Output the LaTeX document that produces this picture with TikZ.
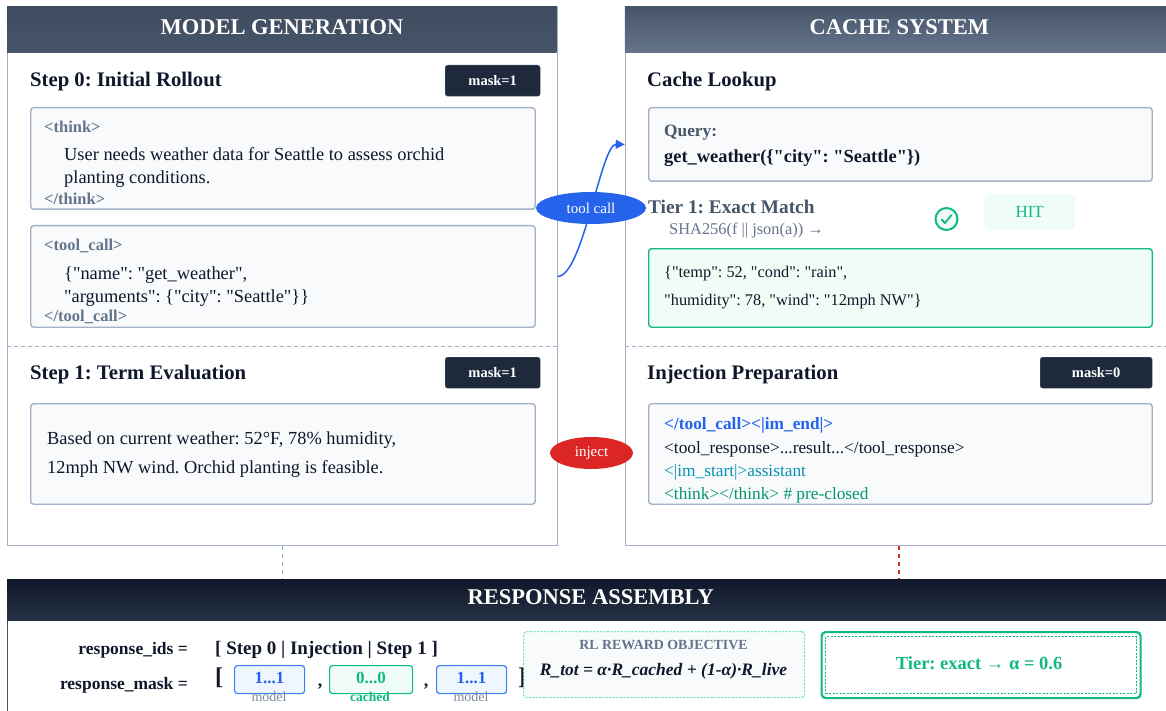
\documentclass[tikz,border=0pt]{standalone}
\usepackage{fontspec}
\setmainfont{Liberation Serif}[Ligatures=TeXOff]
\frenchspacing
\usetikzlibrary{arrows.meta,positioning,shapes.geometric}
\definecolor{edgeC}{HTML}{A3B1C6}
\definecolor{ink}{HTML}{0F172A}
\definecolor{tagC}{HTML}{64748B}
\definecolor{slate}{HTML}{475569}
\definecolor{softbg}{HTML}{F8FAFC}
\definecolor{navy}{HTML}{1E293B}
\definecolor{blueC}{HTML}{2563EB}
\definecolor{redC}{HTML}{DC2626}
\definecolor{greenC}{HTML}{10B981}
\definecolor{greenBg}{HTML}{F0FDF6}
\definecolor{tealC}{HTML}{0891B2}
\definecolor{leafC}{HTML}{059669}
\definecolor{blueBg}{HTML}{EFF6FF}
\definecolor{blueEdge}{HTML}{3B82F6}
\definecolor{mintC}{HTML}{6EE7B7}
\tikzset{
  panel/.style={draw=edgeC,line width=1.3pt,fill=white,anchor=north west,inner sep=0},
  header/.style={anchor=north west,inner sep=0,font=\bfseries\fontsize{22.5}{22.5}\selectfont,text=white},
  divider/.style={draw=edgeC,dashed,line width=.8pt,dash pattern=on 4pt off 3pt},
  title/.style={anchor=base west,inner sep=0,font=\bfseries\fontsize{20.7}{20.7}\selectfont,text=ink},
  badge/.style={fill=navy,draw=edgeC!40!navy,line width=.4pt,rounded corners=2.5pt,anchor=north west,inner sep=0,text=white,font=\bfseries\fontsize{14.5}{14.5}\selectfont},
  card/.style={draw=edgeC,line width=1.4pt,fill=softbg,rounded corners=3pt,anchor=north west,inner sep=0},
  tag/.style={anchor=base west,inner sep=0,font=\bfseries\fontsize{16.5}{16.5}\selectfont,text=tagC},
  body/.style={anchor=base west,inner sep=0,font=\fontsize{18.4}{18.4}\selectfont,text=ink},
  small/.style={anchor=base west,inner sep=0,font=\fontsize{17.3}{17.3}\selectfont,text=ink},
  bubble/.style={ellipse,minimum height=32pt,inner sep=0,text=white,font=\fontsize{15}{15}\selectfont},
  linkC/.style={draw=blueC,line width=1.5pt},
  maskbox/.style={rounded corners=3pt,line width=1.2pt,anchor=north west,inner sep=0,font=\bfseries\fontsize{17}{17}\selectfont},
  under/.style={inner sep=0,font=\fontsize{14}{14}\selectfont},
  lhs/.style={anchor=base east,inner sep=0,font=\bfseries\fontsize{17.5}{17.5}\selectfont,text=ink},
}
\begin{document}
\begin{tikzpicture}[x=1pt,y=-1pt]
\useasboundingbox (0,0) rectangle (1166,711);
\clip (0,0) rectangle (1166,711);
% panels
\node[panel,minimum width=549.5pt,minimum height=539pt] (leftP) at (7,6) {};
\node[panel,minimum width=560pt,minimum height=539pt] (rightP) at (624.7,6) {};
\node[panel,draw=slate,minimum width=1180pt,minimum height=140pt] (botP) at (7,579) {};
% headers
\node[header,minimum width=549.5pt,minimum height=46pt,top color=slate!85!ink,bottom color=slate,align=center] (leftH) at (7,6) {\raisebox{5pt}{MODEL GENERATION}};
\node[header,minimum width=541pt,minimum height=46pt,top color=slate,bottom color=tagC,align=center] (rightH) at (624.7,6) {\hspace*{8pt}\raisebox{5pt}{CACHE SYSTEM}};
\node[header,minimum width=1159pt,minimum height=41pt,top color=ink,bottom color=navy!80!slate,align=center] (botH) at (7,579) {\hspace*{8pt}\raisebox{5pt}{RESPONSE ASSEMBLY}};
% dividers
\draw[divider] (leftP.west |- 0,346) coordinate (dl1) -- (leftP.east |- 0,346) coordinate (dl2);
\draw[divider] (rightP.west |- 0,346) coordinate (dr1) -- (1166,346) coordinate (dr2);
% left column
\node[title] (t0) at (30,87) {Step 0: Initial Rollout};
\node[badge,minimum width=95pt,minimum height=31pt] (m0) at (445,65) {mask=1};
\node[card,minimum width=504.5pt,minimum height=101.5pt] (thinkB) at (30,107) {};
\node[tag] (th1) at (44,133) {<think>};
\node[body] (th2) at (64,161) {User needs weather data for Seattle to assess orchid};
\node[body] (th3) at (64,184) {planting conditions.};
\node[tag] (th4) at (44,205) {</think>};
\node[card,minimum width=504.5pt,minimum height=101.5pt] (toolB) at (30,225) {};
\node[tag] (tc1) at (44,251) {<tool\_call>};
\node[body] (tc2) at (64,279) {\{"name": "get\_weather",};
\node[body] (tc3) at (64,302) {"arguments": \{"city": "Seattle"\}\}};
\node[tag] (tc4) at (44,321) {</tool\_call>};
\node[title] (t1) at (30,379) {Step 1: Term Evaluation};
\node[badge,minimum width=95pt,minimum height=31pt] (m1) at (445,357) {mask=1};
\node[card,minimum width=504.5pt,minimum height=100.5pt] (termB) at (30,403) {};
\node[body] (te1) at (47,444) {Based on current weather: 52°F, 78\% humidity,};
\node[body] (te2) at (47,473) {12mph NW wind. Orchid planting is feasible.};
% right column
\node[title] (t2) at (647,87) {Cache Lookup};
\node[card,minimum width=503.5pt,minimum height=73.5pt] (queryB) at (648,107) {};
\node[anchor=base west,inner sep=0,font=\bfseries\fontsize{17.3}{17.3}\selectfont,text=slate] (q1) at (664,136.5) {Query:};
\node[anchor=base west,inner sep=0,font=\bfseries\fontsize{18.4}{18.4}\selectfont,text=ink] (q2) at (664,163) {get\_weather(\{"city": "Seattle"\})};
\node[anchor=base west,inner sep=0,font=\bfseries\fontsize{19.3}{19.3}\selectfont,text=slate] (tier) at (648,214) {Tier 1: Exact Match};
\node[anchor=base west,inner sep=0,font=\fontsize{16.4}{16.4}\selectfont,text=tagC] (sha) at (669,235) {SHA256(f || json(a)) →};
\node[circle,draw=greenC,fill=greenBg,line width=2pt,minimum size=22pt,inner sep=0] (chk) at (946.5,219) {};
\draw[greenC,line width=1.8pt,line cap=round,line join=round] ([shift={(-5,0.5)}]chk.center) -- ([shift={(-1.5,4)}]chk.center) -- ([shift={(5,-4)}]chk.center);
\node[fill=greenBg,rounded corners=5pt,minimum width=91pt,minimum height=36pt,anchor=north west,inner sep=0,text=greenC,font=\fontsize{17}{17}\selectfont] (hit) at (984,194) {HIT};
\node[card,draw=greenC,fill=greenBg,minimum width=503.5pt,minimum height=78.5pt] (resB) at (648,248) {};
\node[small,font=\fontsize{16.3}{16.3}\selectfont] (r1) at (664,277.5) {\{"temp": 52, "cond": "rain",};
\node[small,font=\fontsize{16.3}{16.3}\selectfont] (r2) at (664,305) {"humidity": 78, "wind": "12mph NW"\}};
\node[title] (t3) at (647,379) {Injection Preparation};
\node[badge,minimum width=112pt,minimum height=31pt] (m2) at (1040,357) {mask=0};
\node[card,minimum width=503.5pt,minimum height=100.5pt] (injB) at (648,403) {};
\node[small,font=\bfseries\fontsize{17.3}{17.3}\selectfont,text=blueC] (i1) at (664,429) {</tool\_call><|im\_end|>};
\node[small] (i2) at (664,453) {<tool\_response>...result...</tool\_response>};
\node[small,text=tealC] (i3) at (664,476) {<|im\_start|>assistant};
\node[small,text=leafC] (i4) at (664,499) {<think></think> \# pre-closed};
% connectors
\coordinate (fromTool) at (leftP.east |- toolB.center);
\coordinate (toQuery) at (rightP.west |- queryB.center);
\draw[linkC,-{Triangle[length=9pt,width=9pt]}] (fromTool) .. controls (583,276) and (601,144) .. (toQuery);
\node[bubble,fill=blueC,minimum width=110pt] (callL) at (591,208) {tool call};
\node[bubble,fill=redC,minimum width=83pt] (injL) at (591.5,453) {inject};
\draw[edgeC,line width=.9pt,dash pattern=on 4pt off 4pt] (leftP.south -| leftH.south) -- (leftH.south |- botH.north);
\coordinate (ra) at (899,546);
\draw[redC,line width=1.2pt,dash pattern=on 4pt off 4pt] (ra) -- (ra |- botH.north);
% assembly
\node[lhs] (ids) at (188,654) {response\_ids =};
\node[lhs] (mask) at (188,689) {response\_mask =};
\node[anchor=base west,inner sep=0,font=\bfseries\fontsize{19}{19}\selectfont,text=ink] (seq) at (215,654) {[ Step 0 | Injection | Step 1 ]};
\node[anchor=base,inner sep=0,font=\bfseries\fontsize{24}{24}\selectfont,text=ink] (lb) at (219,684) {[};
\node[maskbox,draw=blueEdge,fill=blueBg,text=blueC,minimum width=70pt,minimum height=28pt] (b1) at (234,665) {\raisebox{3pt}{1...1}};
\node[anchor=base,inner sep=0,font=\bfseries\fontsize{18}{18}\selectfont,text=ink] (c1) at (320,686) {,};
\node[maskbox,draw=greenC,fill=greenBg,text=greenC,minimum width=83pt,minimum height=28pt] (b2) at (329,665) {\raisebox{3pt}{0...0}};
\node[anchor=base,inner sep=0,font=\bfseries\fontsize{18}{18}\selectfont,text=ink] (c2) at (426,686) {,};
\node[maskbox,draw=blueEdge,fill=blueBg,text=blueC,minimum width=70pt,minimum height=28pt] (b3) at (436,665) {\raisebox{3pt}{1...1}};
\node[anchor=base,inner sep=0,font=\bfseries\fontsize{24}{24}\selectfont,text=ink] (rbk) at (522,684) {]};
\node[under,text=tagC!85!white] (u1) at (269,697) {model};
\node[under,text=greenC,font=\bfseries\fontsize{13.5}{13.5}\selectfont] (u2) at (370,697) {cached};
\node[under,text=tagC!85!white] (u3) at (471,697) {model};
\node[draw=mintC,fill=softbg,dash pattern=on 2pt off 1.5pt,line width=1.2pt,rounded corners=3pt,minimum width=281pt,minimum height=66pt,anchor=north west,inner sep=0] (rl) at (523,631) {};
\node[inner sep=0,font=\bfseries\fontsize{13.9}{13.9}\selectfont,text=tagC] (rl1) at (663.5,645) {RL REWARD OBJECTIVE};
\node[inner sep=0,font=\bfseries\itshape\fontsize{17.5}{17.5}\selectfont,text=ink] (rl2) at (663.5,671) {R\_tot = α·R\_cached + (1-α)·R\_live};
\node[draw=greenC,fill=white,line width=2.2pt,rounded corners=4pt,minimum width=319pt,minimum height=66pt,anchor=north west,inner sep=0] (tb) at (820.5,631) {};
\node[draw=greenC,dash pattern=on 2pt off 1.5pt,line width=.8pt,minimum width=311pt,minimum height=57pt,inner sep=0,font=\bfseries\fontsize{18.5}{18.5}\selectfont,text=greenC] (tb2) at (tb.center) {\hspace*{-4pt}\raisebox{5pt}{Tier: exact → α = 0.6}};
\end{tikzpicture}
\end{document}
